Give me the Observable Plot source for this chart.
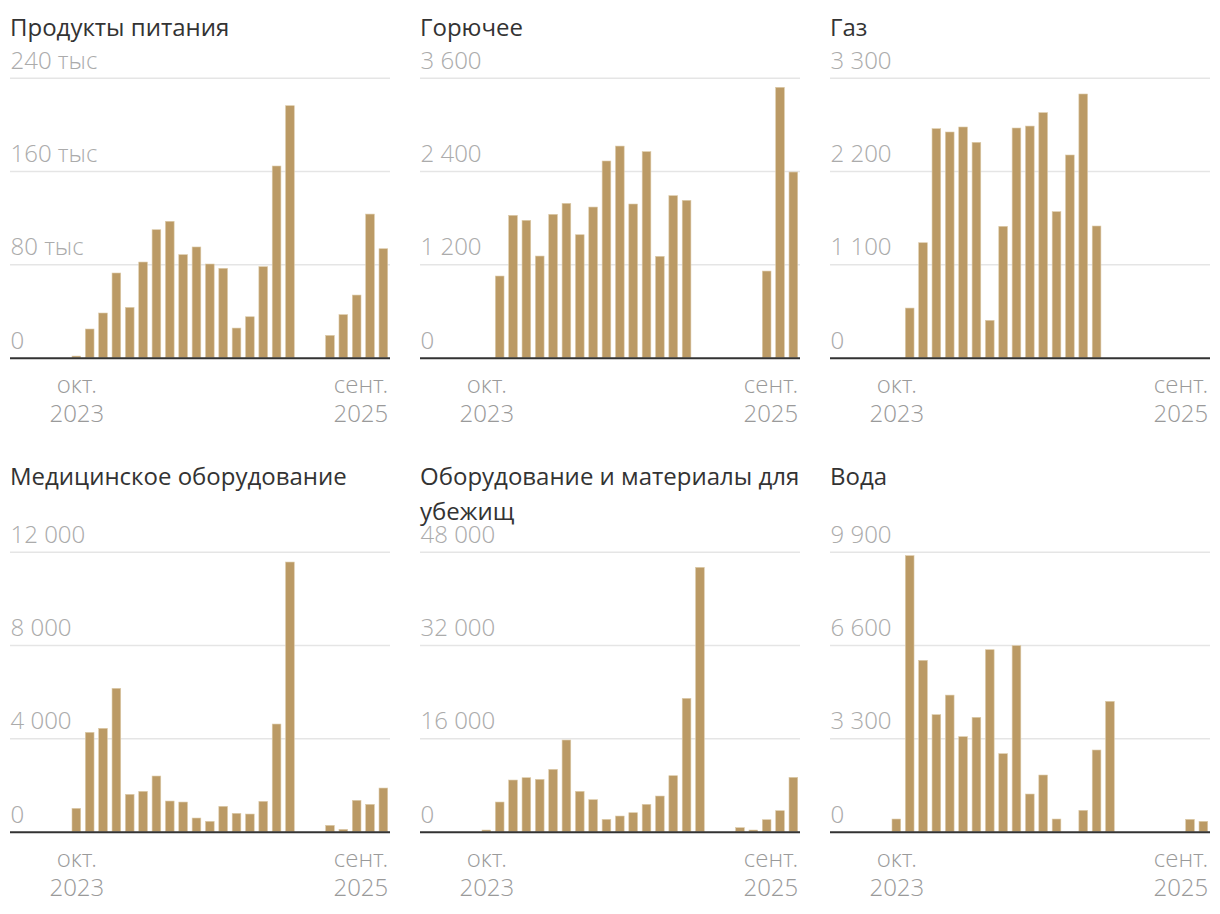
<!DOCTYPE html>
<html><head><meta charset="utf-8">
<script src="https://cdn.jsdelivr.net/npm/d3@7"></script>
<script src="https://cdn.jsdelivr.net/npm/@observablehq/plot@0.6"></script>
<style>
body{margin:0;background:#fff;font-family:"Open Sans",sans-serif;}
#root{position:relative;width:1220px;height:914px;overflow:hidden;}
.title{position:absolute;font-size:24px;line-height:35px;color:#333;width:390px;}
.panel{position:absolute;}
.panel svg{overflow:visible;display:block;}
</style></head><body><div id="root"></div>
<script>
const months = ["2023-10","2023-11","2023-12","2024-01","2024-02","2024-03","2024-04","2024-05","2024-06","2024-07","2024-08","2024-09","2024-10","2024-11","2024-12","2025-01","2025-02","2025-03","2025-04","2025-05","2025-06","2025-07","2025-08","2025-09"];
const firstLabel = "окт.\n2023";
const lastLabel = "сент.\n2025";

const titles = ["Продукты питания","Горючее","Газ","Медицинское оборудование","Оборудование и материалы для убежищ","Вода"];

const food = [1400,24600,38300,72600,43100,82000,109700,116900,88300,94900,80300,76600,25400,35100,78000,164300,216000,null,null,19100,36900,53700,123100,93400];
const fuel = [null,1050,1830,1766,1307,1843,1984,1581,1937,2529,2721,1976,2649,1303,2083,2023,null,null,null,null,null,1114,3476,2387];
const gas = [null,585,1355,2699,2660,2719,2538,440,1548,2707,2730,2888,1721,2389,3108,1552,null,null,null,null,null,null,null,null];
const medical = [1000,4257,4429,6143,1600,1729,2386,1314,1271,586,443,1086,786,757,1300,4614,11557,null,null,271,100,1343,1171,1871];
const shelter = [286,5086,8857,9257,8971,10686,15714,6914,5486,2114,2686,3257,4686,6114,9600,22857,45314,null,null,686,286,2057,3600,9314];
const water = [448,9759,6058,4137,4830,3359,4043,6435,2758,6577,1332,2004,448,null,754,2888,4608,null,null,null,null,null,436,365];

const foodTicks = [0,80000,160000,240000];
const foodTickLabels = ["0","80 тыс","160 тыс","240 тыс"];
const fuelTicks = [0,1200,2400,3600];
const fuelTickLabels = ["0","1 200","2 400","3 600"];
const gasTicks = [0,1100,2200,3300];
const gasTickLabels = ["0","1 100","2 200","3 300"];
const medicalTicks = [0,4000,8000,12000];
const medicalTickLabels = ["0","4 000","8 000","12 000"];
const shelterTicks = [0,16000,32000,48000];
const shelterTickLabels = ["0","16 000","32 000","48 000"];
const waterTicks = [0,3300,6600,9900];
const waterTickLabels = ["0","3 300","6 600","9 900"];

const series = [food, fuel, gas, medical, shelter, water];
const ticksAll = [foodTicks, fuelTicks, gasTicks, medicalTicks, shelterTicks, waterTicks];
const labelsAll = [foodTickLabels, fuelTickLabels, gasTickLabels, medicalTickLabels, shelterTickLabels, waterTickLabels];

const root = document.getElementById("root");
const titleTops = [9.2, 458.2];
const svgTops = [40, 514];
const lightFont = "'Open Sans Light', 'Open Sans', sans-serif";

series.forEach((vals, k) => {
  const col = k % 3, row = Math.floor(k / 3);
  const left = 10 + 410 * col;
  const t = document.createElement("div");
  t.className = "title";
  t.style.left = left + "px";
  t.style.top = titleTops[row] + "px";
  t.textContent = titles[k];
  root.appendChild(t);

  const data = months.map((m, i) => ({month: m, value: vals[i]})).filter(d => d.value != null);
  const ticks = ticksAll[k];
  const labelMap = new Map(ticks.map((v, i) => [v, labelsAll[k][i]]));
  const axisText = {fontSize: 24, fill: "#9a9a9a", fontWeight: 300, fontFamily: lightFont, lineHeight: 1.21, tickSize: 0, tickPadding: 0, dy: 14.4, label: null};
  const chart = Plot.plot({
    width: 380, height: 400,
    marginTop: 37.7, marginBottom: 82.3, marginLeft: 0, marginRight: 0,
    style: {fontFamily: "'Open Sans', sans-serif", background: "transparent", overflow: "visible"},
    x: {type: "band", domain: months, range: [62, 377.7], paddingInner: 0.35, paddingOuter: 0, round: false},
    y: {domain: [0, ticks[ticks.length - 1]]},
    marks: [
      Plot.ruleY(ticks.slice(1), {stroke: "#e5e5e5", strokeWidth: 1.5}),
      Plot.barY(data, {x: "month", y: "value", fill: "#bb9a65", stroke: "#dccaa8", strokeWidth: 0.6}),
      Plot.ruleY([0], {stroke: "#333", strokeWidth: 2}),
      Plot.axisY(ticks, {anchor: "left", tickSize: 0, tickPadding: 0, textAnchor: "start", tickFormat: d => labelMap.get(d), fill: "#ababab", fontSize: 24, fontWeight: 300, fontFamily: lightFont, dy: -17.1, label: null}),
      Plot.axisX([months[0]], {anchor: "bottom", ...axisText, tickFormat: () => firstLabel, textAnchor: "middle"}),
      Plot.axisX([months[months.length - 1]], {anchor: "bottom", ...axisText, tickFormat: () => lastLabel, textAnchor: "end", dx: 4.4})
    ]
  });
  const p = document.createElement("div");
  p.className = "panel";
  p.style.left = left + "px";
  p.style.top = svgTops[row] + "px";
  p.appendChild(chart);
  root.appendChild(p);
});
</script></body></html>
